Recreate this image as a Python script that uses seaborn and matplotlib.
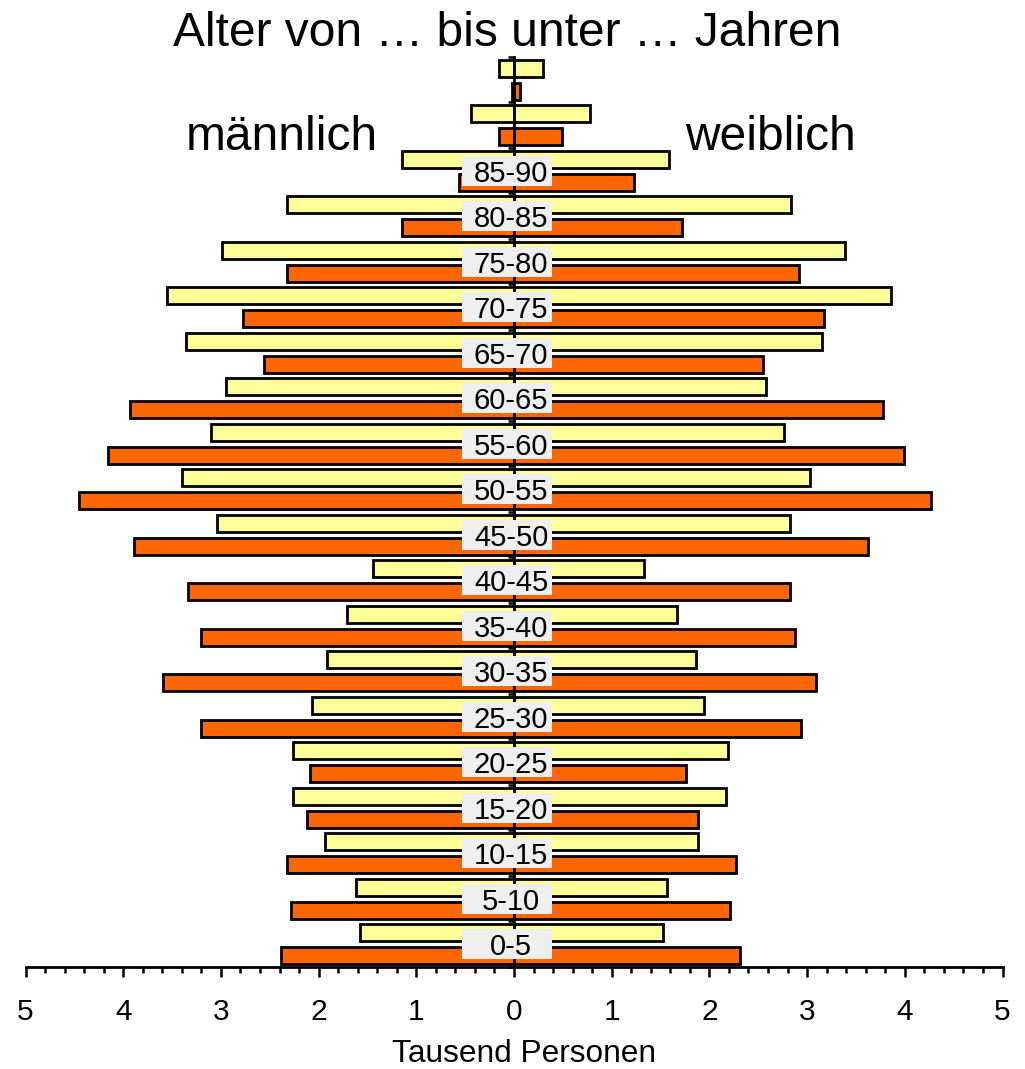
import numpy as np
import pandas as pd
import seaborn as sns
import matplotlib.pyplot as plt
from matplotlib.ticker import MultipleLocator, FuncFormatter
from matplotlib.patches import Rectangle

# Altersgruppen von oben (älteste) nach unten (jüngste)
altersgruppen = ['95-100', '90-95', '85-90', '80-85', '75-80', '70-75', '65-70',
                 '60-65', '55-60', '50-55', '45-50', '40-45', '35-40', '30-35',
                 '25-30', '20-25', '15-20', '10-15', '5-10', '0-5']
# Gruppen, die eine Beschriftung erhalten
beschriftet = altersgruppen[2:]

stand = ['Vergleichsjahr', 'Berichtsjahr']

# Tausend Personen
maenner_vergleich = [0.15, 0.44, 1.15, 2.32, 2.99, 3.55, 3.36, 2.95, 3.10, 3.40,
                     3.04, 1.44, 1.71, 1.91, 2.07, 2.26, 2.26, 1.93, 1.62, 1.58]
maenner_bericht = [0.02, 0.15, 0.56, 1.15, 2.32, 2.77, 2.56, 3.93, 4.16, 4.45,
                   3.89, 3.34, 3.20, 3.59, 3.20, 2.09, 2.12, 2.32, 2.28, 2.38]
frauen_vergleich = [0.30, 0.78, 1.59, 2.84, 3.39, 3.86, 3.15, 2.58, 2.76, 3.03,
                    2.82, 1.33, 1.67, 1.86, 1.94, 2.19, 2.17, 1.88, 1.57, 1.53]
frauen_bericht = [0.06, 0.49, 1.23, 1.72, 2.92, 3.17, 2.55, 3.78, 3.99, 4.27,
                  3.62, 2.82, 2.88, 3.09, 2.94, 1.76, 1.88, 2.27, 2.21, 2.31]

farben = {'Vergleichsjahr': '#FFFF99', 'Berichtsjahr': '#FF6600'}


def lang(werte_a, werte_b, vorzeichen):
    return pd.DataFrame({
        'Alter': altersgruppen * 2,
        'Stand': [stand[0]] * len(altersgruppen) + [stand[1]] * len(altersgruppen),
        'Wert': [vorzeichen * v for v in list(werte_a) + list(werte_b)],
    })


df_m = lang(maenner_vergleich, maenner_bericht, -1)
df_w = lang(frauen_vergleich, frauen_bericht, 1)

sns.set_theme(style='white')
plt.rcParams['font.family'] = ['Liberation Sans', 'DejaVu Sans']

fig = plt.figure(figsize=(10.25, 10.69), dpi=100)
ax = fig.add_axes([25.5 / 1025, 1 - 967 / 1069, 977 / 1025, 910 / 1069])

for df in (df_m, df_w):
    sns.barplot(data=df, x='Wert', y='Alter', hue='Stand', order=altersgruppen,
                hue_order=stand, palette=farben, saturation=1, orient='h',
                dodge=True, width=1.0, gap=0.25, errorbar=None,
                edgecolor='black', linewidth=2.0, legend=False, ax=ax)

n = len(altersgruppen)
ax.set_xlim(-5, 5)
ax.set_ylim(n - 0.5, -0.5)

# Achsen: senkrechte Achse bei 0, waagerechte unten
for s in ('top', 'right'):
    ax.spines[s].set_visible(False)
ax.spines['left'].set_position(('data', 0))
for s in ('left', 'bottom'):
    ax.spines[s].set_linewidth(2.0)
    ax.spines[s].set_color('black')
    ax.spines[s].set_zorder(2.5)

ax.set_yticks([])
ax.set_yticks(np.arange(-0.5, n, 1), minor=True)
ax.tick_params(axis='y', which='minor', left=True, direction='out',
               length=4, width=1.8, color='black')
ax.set_ylabel('')

ax.xaxis.set_major_locator(MultipleLocator(1))
ax.xaxis.set_minor_locator(MultipleLocator(0.2))
ax.xaxis.set_major_formatter(FuncFormatter(lambda v, p: f'{abs(v):.0f}'))
ax.tick_params(axis='x', which='major', bottom=True, direction='out',
               length=7.5, width=1.8, color='black', labelsize=21.5, pad=15,
               labelcolor='black')
ax.tick_params(axis='x', which='minor', bottom=True, direction='out',
               length=4.5, width=1.8, color='black')
ax.set_xlabel('Tausend Personen', fontsize=22.8, labelpad=9.5, color='black')
ax.xaxis.label.set_x(0.51)

# Beschriftung der Altersgruppen in grauen Kästchen
box_links, box_breite, box_hoehe = -0.537, 0.931, 0.66
for i, gruppe in enumerate(altersgruppen):
    if gruppe not in beschriftet:
        continue
    ax.add_patch(Rectangle((box_links, i - box_hoehe / 2), box_breite, box_hoehe,
                           facecolor='#EFEFEF', edgecolor='none', zorder=4))
    ax.text(-0.03, i, gruppe, ha='center', va='center_baseline', fontsize=21,
            color='black', zorder=5)

fig.text(507.5 / 1025, 1 - 33 / 1069, 'Alter von … bis unter … Jahren',
         ha='center', va='center', fontsize=34.5, color='black')
fig.text(282 / 1025, 1 - 137 / 1069, 'männlich', ha='center', va='center',
         fontsize=34.5, color='black')
fig.text(770 / 1025, 1 - 137 / 1069, 'weiblich', ha='center', va='center',
         fontsize=34.5, color='black')

fig.savefig('out.png', dpi=100, facecolor='white')
